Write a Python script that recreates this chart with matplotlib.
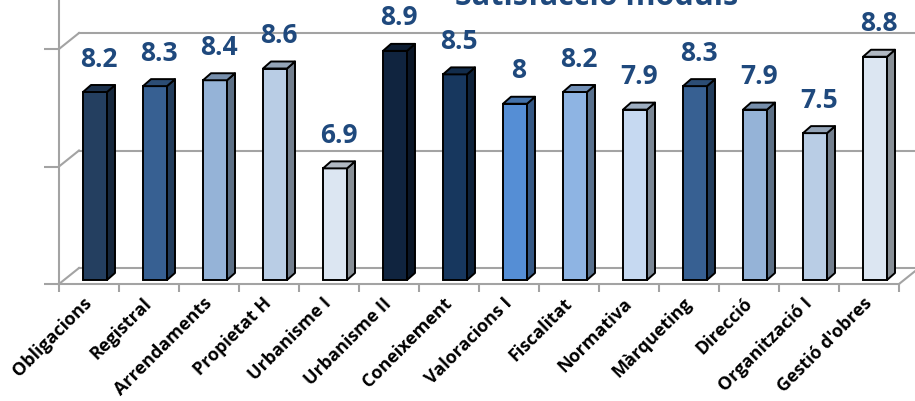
import numpy as np
import matplotlib
matplotlib.use("Agg")
import matplotlib.pyplot as plt
from matplotlib.patches import Polygon
from matplotlib.colors import to_rgb

# dades
moduls = ["Obligacions", "Registral", "Arrendaments", "Propietat H", "Urbanisme I",
          "Urbanisme II", "Coneixement", "Valoracions I", "Fiscalitat", "Normativa",
          "Màrqueting", "Direcció", "Organització I", "Gestió d'obres"]
notes = [8.2, 8.3, 8.4, 8.6, 6.9, 8.9, 8.5, 8.0, 8.2, 7.9, 8.3, 7.9, 7.5, 8.8]
colors = ["#243F60", "#376092", "#95B3D7", "#B9CDE5", "#DCE6F2", "#10243F", "#17375E",
          "#558ED5", "#8EB4E3", "#C6D9F1", "#376092", "#95B3D7", "#B9CDE5", "#DCE6F2"]
etiquetes = ["8.2", "8.3", "8.4", "8.6", "6.9", "8.9", "8.5", "8", "8.2", "7.9",
             "8.3", "7.9", "7.5", "8.8"]

W, H = 915, 401
fig = plt.figure(figsize=(W / 100, H / 100), dpi=100)
# eix: 60 px per categoria, 58.75 px per unitat
ymin = 5
ax = fig.add_axes([59 / W, (H - 284) / H, 840 / W, 284 / H])
ax.set_xlim(-0.5, 13.5)
ax.set_ylim(ymin, ymin + 284 / 58.75)
px = 1 / 60.0
py = 1 / 58.75

grey = "#a3a3a3"
blau = "#1F497D"

# paret del fons (perspectiva)
wdx, wdy = 20 * px, 16 * py
for lev in [5, 7, 9]:
    ax.plot([-0.5, -0.5 + wdx], [lev, lev + wdy], color=grey, lw=1.5, clip_on=False, zorder=1)
    ax.plot([-0.5 + wdx, 14.5], [lev + wdy, lev + wdy], color=grey, lw=1.5, clip_on=False, zorder=1)
ax.plot([13.5, 13.5 + wdx], [5, 5 + wdy], color=grey, lw=1.5, clip_on=False, zorder=1)

# barres 3D
x = np.arange(len(moduls))
offx, offy = 6 * px, 4 * py
bw = 0.4
ddx, ddy = 8 * px, 7 * py
for i, (v, c) in enumerate(zip(notes, colors)):
    rgb = np.array(to_rgb(c))
    xl = x[i] + offx - bw / 2
    xr = xl + bw
    b = ymin + offy
    t = v + offy
    ax.bar(x[i] + offx, v - ymin, bottom=b, width=bw, color=c, edgecolor="black",
           linewidth=1.4, zorder=3)
    side = Polygon([(xr, b), (xr + ddx, b + ddy), (xr + ddx, t + ddy), (xr, t)],
                   closed=True, facecolor=rgb * 0.62, edgecolor="black", lw=1.4,
                   zorder=3, joinstyle="round")
    top = Polygon([(xl, t), (xl + ddx, t + ddy), (xr + ddx, t + ddy), (xr, t)],
                  closed=True, facecolor=rgb * 0.8, edgecolor="black", lw=1.4,
                  zorder=3, joinstyle="round")
    ax.add_patch(side)
    ax.add_patch(top)
    ax.text(x[i] + offx + 4 * px, t + 33 * py, etiquetes[i], ha="center", va="center",
            fontsize=19, fontweight="bold", color=blau, family="Open Sans",
            zorder=4, clip_on=False)

# eixos
for s in ["top", "right"]:
    ax.spines[s].set_visible(False)
for s in ["left", "bottom"]:
    ax.spines[s].set_color(grey)
    ax.spines[s].set_linewidth(1.5)
ax.set_yticks([5, 7, 9])
ax.set_yticklabels([])
ax.tick_params(axis="y", length=10.5, width=1.5, color=grey, direction="out")
ax.set_xticks(np.arange(-0.5, 14, 1), minor=True)
ax.set_xticks(x)
ax.set_xticklabels(moduls, rotation=45, ha="right", va="center", rotation_mode="anchor",
                   fontsize=13, fontweight="bold", family="Open Sans")
ax.tick_params(axis="x", which="major", length=0, pad=12)
ax.tick_params(axis="x", which="minor", length=6, width=1.5, color=grey, direction="out")
ax.patch.set_visible(False)

fig.text(597 / W, 1 - 5 / H, "Satisfacció mòduls", ha="center", va="baseline",
         fontsize=22, fontweight="bold", color=blau, family="Open Sans")

fig.savefig("out.png", dpi=100)
